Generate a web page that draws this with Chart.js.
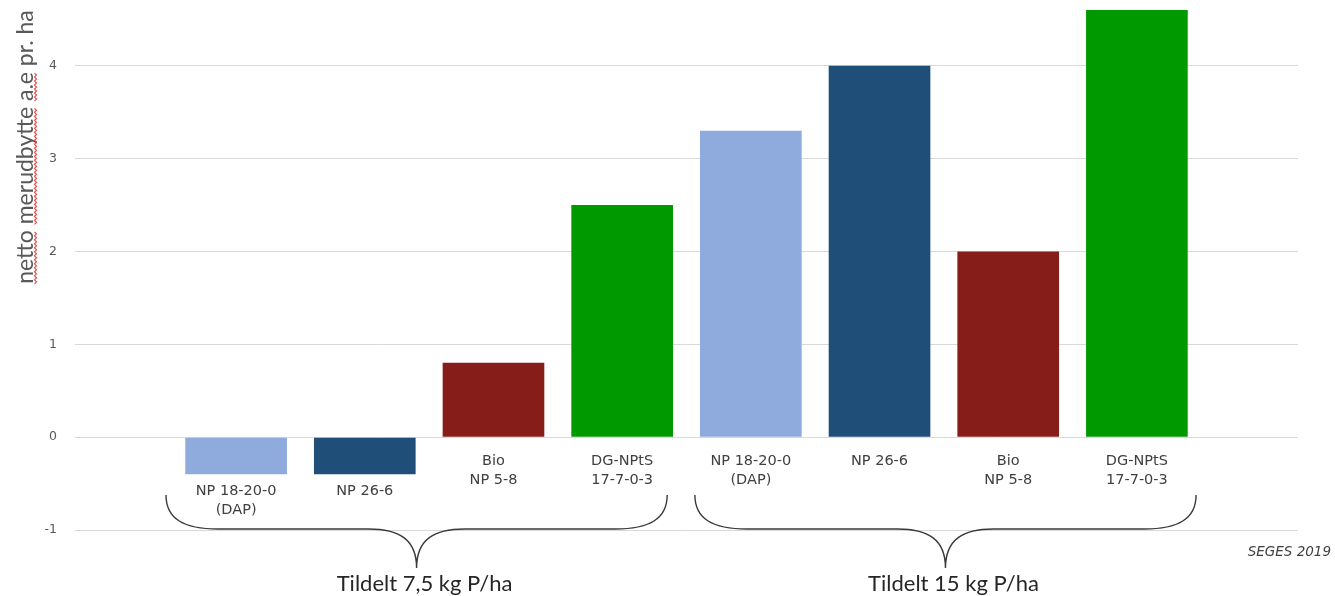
<!DOCTYPE html>
<html>
<head>
<meta charset="utf-8">
<script src="https://cdn.jsdelivr.net/npm/chart.js@4/dist/chart.umd.min.js"></script>
<style>
  html, body { margin: 0; padding: 0; background: #ffffff; }
  canvas { display: block; }
</style>
</head>
<body>
<canvas id="c" width="1335" height="596"></canvas>
<script>
// Fertiliser products (two-line labels under each bar)
const categories = [
  ["NP 18-20-0", "(DAP)"], ["NP 26-6"], ["Bio", "NP 5-8"], ["DG-NPtS", "17-7-0-3"],
  ["NP 18-20-0", "(DAP)"], ["NP 26-6"], ["Bio", "NP 5-8"], ["DG-NPtS", "17-7-0-3"]
];
// Net yield gain, crop units per ha
const values = [-0.4, -0.4, 0.8, 2.5, 3.3, 4.0, 2.0, 4.6];
// P application levels, four products each
const groups = ["Tildelt 7,5 kg P/ha", "Tildelt 15 kg P/ha"];
const groupSize = 4;
const yTicks = [-1, 0, 1, 2, 3, 4];
const yTitle = "netto merudbytte a.e pr. ha";
const spellWords = ["netto", "merudbytte", "a.e"];
const sourceNote = "SEGES 2019";

const productColors = ["#8faadc", "#1f4e79", "#861d18", "#009900"];
const barColors = values.map((_, i) => productColors[i % productColors.length]);
// how far each brace reaches past its first and last bar centre (in bar slots)
const braceReach = [[-0.545, 0.35], [-0.435, 0.46]];

const overlay = {
  id: 'overlay',
  afterDraw(chart) {
    const { ctx, scales: { x, y } } = chart;
    const meta = chart.getDatasetMeta(0);
    ctx.save();

    // product labels under each bar
    ctx.font = '14.5px "DejaVu Sans"';
    ctx.fillStyle = '#404040';
    ctx.textAlign = 'center';
    ctx.textBaseline = 'middle';
    values.forEach((v, i) => {
      const bx = meta.data[i].x;
      const top = v < 0 ? y.getPixelForValue(v) + 17 : y.getPixelForValue(0) + 24;
      categories[i].forEach((line, k) => ctx.fillText(line, bx, top + k * 19));
    });

    // curly braces and group captions
    const yMinus = y.getPixelForValue(-1);
    const yTop = yMinus - 35, yFlat = yMinus - 1, yTip = yMinus + 38;
    ctx.strokeStyle = '#3a3a3a';
    ctx.lineWidth = 1.4;
    groups.forEach((label, g) => {
      const first = g * groupSize, last = first + groupSize - 1;
      const x0 = x.getPixelForValue(first + braceReach[g][0]);
      const x1 = x.getPixelForValue(last + braceReach[g][1]);
      const xm = (x0 + x1) / 2;
      ctx.beginPath();
      ctx.moveTo(x0, yTop);
      ctx.bezierCurveTo(x0, yTop + 24, x0 + 18, yFlat, x0 + 52, yFlat);
      ctx.lineTo(xm - 48, yFlat);
      ctx.bezierCurveTo(xm - 18, yFlat, xm, yFlat + 10, xm, yTip);
      ctx.bezierCurveTo(xm, yFlat + 10, xm + 18, yFlat, xm + 48, yFlat);
      ctx.lineTo(x1 - 52, yFlat);
      ctx.bezierCurveTo(x1 - 18, yFlat, x1, yTop + 24, x1, yTop);
      ctx.stroke();

      ctx.font = '22px Lato';
      ctx.fillStyle = '#262626';
      ctx.textAlign = 'center';
      ctx.textBaseline = 'middle';
      ctx.fillText(label, xm + 8, yMinus + 54);
    });

    // source note
    ctx.font = 'italic 13.5px "DejaVu Sans"';
    ctx.fillStyle = '#404040';
    ctx.textAlign = 'right';
    ctx.textBaseline = 'middle';
    ctx.fillText(sourceNote, 1331, yMinus + 22);

    // vertical axis title with proofing underline
    ctx.translate(33, 147);
    ctx.rotate(-Math.PI / 2);
    ctx.font = '23px Lato';
    ctx.fillStyle = '#595959';
    ctx.textAlign = 'left';
    ctx.textBaseline = 'alphabetic';
    const W = ctx.measureText(yTitle).width;
    const start = -W / 2;
    ctx.fillText(yTitle, start, 0);
    ctx.strokeStyle = '#f0413c';
    ctx.lineWidth = 1.1;
    let pos = 0;
    spellWords.forEach(word => {
      const at = yTitle.indexOf(word, pos);
      const u0 = start + ctx.measureText(yTitle.slice(0, at)).width;
      const u1 = u0 + ctx.measureText(word).width;
      pos = at + word.length;
      ctx.beginPath();
      for (let u = u0, k = 0; u <= u1; u += 2, k++) {
        const v = (k % 2 === 0) ? 1.5 : 3.5;
        if (k === 0) ctx.moveTo(u, v); else ctx.lineTo(u, v);
      }
      ctx.stroke();
    });

    ctx.restore();
  }
};

new Chart(document.getElementById('c'), {
  type: 'bar',
  data: {
    datasets: [{
      data: values.map((v, i) => ({ x: i, y: v })),
      backgroundColor: barColors,
      borderWidth: 0,
      barPercentage: 0.79,
      categoryPercentage: 1.0
    }]
  },
  options: {
    responsive: false,
    animation: false,
    devicePixelRatio: 1,
    layout: { autoPadding: false, padding: { left: 0, right: 37, top: 10, bottom: 66 } },
    plugins: { legend: { display: false }, tooltip: { enabled: false } },
    scales: {
      x: {
        type: 'linear',
        display: false,
        offset: false,
        min: -1.252,
        max: values.length - 1 + 1.252
      },
      y: {
        min: -1,
        max: 4.6,
        afterBuildTicks: scale => { scale.ticks = yTicks.map(v => ({ value: v })); },
        afterFit: scale => {
          scale.width = 75;
          scale.paddingTop = 0;
          scale.paddingBottom = 0;
        },
        border: { display: false },
        grid: { color: '#d9d9d9', lineWidth: 1, drawTicks: false },
        ticks: {
          padding: 18,
          color: '#595959',
          font: { family: 'DejaVu Sans', size: 12.5 }
        }
      }
    }
  },
  plugins: [overlay]
});
</script>
</body>
</html>
